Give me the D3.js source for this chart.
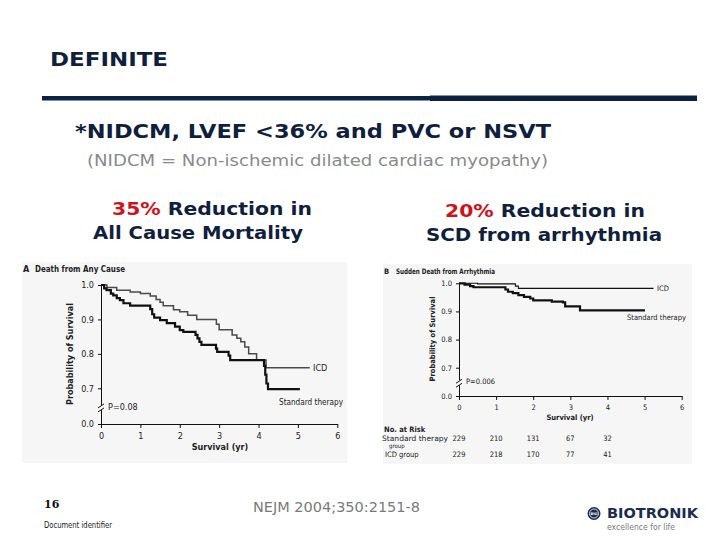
<!DOCTYPE html>
<html><head><meta charset="utf-8">
<script src="https://cdn.jsdelivr.net/npm/d3@7"></script>
<style>
html,body{margin:0;padding:0;background:#fff;}
svg{display:block;}
</style></head>
<body>
<script>
// ---------- DATA ----------
const yearTicks = [0, 1, 2, 3, 4, 5, 6];
const survTicks = [0.0, 0.7, 0.8, 0.9, 1.0];

// Panel A: Death from Any Cause (step points: [year, survival])
const icdA = [[0,1.0],[0.15,0.993],[0.4,0.985],[0.74,0.98],[1.0,0.975],[1.25,0.968],[1.4,0.958],[1.5,0.95],[1.58,0.94],[1.84,0.928],[2.0,0.922],[2.2,0.912],[2.43,0.90],[2.93,0.886],[3.0,0.87],[3.33,0.855],[3.45,0.845],[3.55,0.835],[3.65,0.82],[3.75,0.80],[3.95,0.782],[4.19,0.76],[5.3,0.76]];
const stdA = [[0,1.0],[0.08,0.99],[0.14,0.985],[0.25,0.975],[0.31,0.97],[0.4,0.962],[0.48,0.956],[0.57,0.947],[0.74,0.94],[1.25,0.93],[1.3,0.915],[1.35,0.905],[1.5,0.898],[1.67,0.889],[1.88,0.879],[2.0,0.869],[2.09,0.864],[2.4,0.855],[2.45,0.845],[2.5,0.835],[2.55,0.826],[2.92,0.815],[2.95,0.806],[3.24,0.795],[3.28,0.782],[4.14,0.765],[4.17,0.74],[4.2,0.714],[4.24,0.685],[5.05,0.685]];

// Panel B: Sudden Death from Arrhythmia
const icdB = [[0,1.0],[0.5,0.998],[1.52,0.99],[1.6,0.982],[5.24,0.982]];
const stdB = [[0,1.0],[0.15,0.995],[0.3,0.99],[0.39,0.986],[1.25,0.978],[1.32,0.97],[1.45,0.965],[1.6,0.958],[1.75,0.952],[1.92,0.946],[2.0,0.939],[2.5,0.935],[2.8,0.932],[2.86,0.918],[3.26,0.904],[5.01,0.904]];

// Number at risk (panel B)
const riskYears = [0, 1, 2, 3, 4];
const riskStandard = [229, 210, 131, 67, 32];
const riskICD = [229, 218, 170, 77, 41];

// ---------- DRAW ----------
const W = 720, H = 540;
const svg = d3.select("body").append("svg").attr("width", W).attr("height", H);
const NAVY = "#0f1f3d";
const HEAD = "'DejaVu Sans', Verdana, sans-serif";
const CHART = "'Liberation Sans Narrow','DejaVu Sans Condensed','Liberation Sans',sans-serif";

function txt(g, x, y, s, o = {}) {
  const t = g.append("text").attr("x", x).attr("y", y)
    .attr("font-family", o.family || HEAD)
    .attr("font-size", o.size || 12)
    .attr("font-weight", o.weight || "normal")
    .attr("fill", o.fill || "#222")
    .attr("text-anchor", o.anchor || "start");
  if (o.rotate) t.attr("transform", `rotate(${o.rotate},${x},${y})`);
  if (Array.isArray(s)) {
    s.forEach(p => t.append("tspan").attr("fill", p[1]).text(p[0]));
  } else t.text(s);
  if (o.width) t.attr("textLength", o.width).attr("lengthAdjust", "spacingAndGlyphs");
  return t;
}

// Header
txt(svg, 50, 66, "DEFINITE", {size: 20, weight: "bold", fill: NAVY, width: 118});
svg.append("rect").attr("x", 42).attr("y", 96).attr("width", 390).attr("height", 4.5).attr("fill", "#0c2244");
svg.append("rect").attr("x", 430).attr("y", 95.5).attr("width", 267).attr("height", 5.5).attr("fill", "#0c2244");
txt(svg, 75, 138, "*NIDCM, LVEF <36% and PVC or NSVT", {size: 20, weight: "bold", fill: NAVY, width: 476});
txt(svg, 87, 166, "(NIDCM = Non-ischemic dilated cardiac myopathy)", {size: 16, fill: "#8a8a8a", width: 461});
txt(svg, 112, 215, [["35%", "#d0121b"], [" Reduction in", NAVY]], {size: 18, weight: "bold", width: 200});
txt(svg, 93, 239, "All Cause Mortality", {size: 18, weight: "bold", fill: NAVY, width: 210});
txt(svg, 445, 217, [["20%", "#d0121b"], [" Reduction in", NAVY]], {size: 18, weight: "bold", width: 200});
txt(svg, 426, 241, "SCD from arrhythmia", {size: 18, weight: "bold", fill: NAVY, width: 236});

// Panel builder
function panel(cfg) {
  const g = svg.append("g");
  g.append("rect").attr("x", cfg.box[0]).attr("y", cfg.box[1])
    .attr("width", cfg.box[2]).attr("height", cfg.box[3]).attr("fill", "#f6f6f6");
  const x = d3.scaleLinear().domain([0, 6]).range(cfg.xr);
  const y = d3.scaleLinear().domain([0.0, 0.7, 1.0]).range(cfg.yr);

  const fs = cfg.fs;
  const ax = g.append("g").attr("transform", `translate(0,${cfg.yr[0]})`)
    .call(d3.axisBottom(x).tickValues(yearTicks).tickSize(4).tickSizeOuter(0).tickFormat(d3.format("d")));
  const ay = g.append("g").attr("transform", `translate(${cfg.xr[0]},0)`)
    .call(d3.axisLeft(y).tickValues(survTicks).tickSize(3).tickSizeOuter(0).tickFormat(d3.format(".1f")));
  [ax, ay].forEach(a => {
    a.selectAll("path,line").attr("stroke", "#111").attr("stroke-width", 1);
    a.selectAll("text").attr("font-family", CHART).attr("font-size", fs).attr("fill", "#222");
  });
  ax.selectAll("text").attr("dy", "0.9em");
  ay.selectAll("text").attr("dx", "-1");

  // axis break mark
  const by = y(0.0) + (y(0.7) - y(0.0)) * 0.45;
  const bx = cfg.xr[0];
  g.append("rect").attr("x", bx - 3).attr("y", by - 3).attr("width", 6).attr("height", 5).attr("fill", "#f6f6f6");
  [-2, 2].forEach(o => g.append("line").attr("x1", bx - 3).attr("y1", by + o + 2).attr("x2", bx + 3).attr("y2", by + o - 2)
    .attr("stroke", "#111").attr("stroke-width", 1));

  const line = d3.line().x(d => x(d[0])).y(d => y(d[1])).curve(d3.curveStepAfter);
  g.append("path").datum(cfg.icd).attr("d", line).attr("fill", "none")
    .attr("stroke", cfg.icdColor).attr("stroke-width", cfg.icdWidth);
  g.append("path").datum(cfg.std).attr("d", line).attr("fill", "none")
    .attr("stroke", "#111").attr("stroke-width", 2.2);

  // labels
  txt(g, cfg.box[0] + 1, cfg.titleY, cfg.letter, {family: CHART, size: fs, weight: "bold"});
  txt(g, cfg.titleX, cfg.titleY, cfg.title, {family: CHART, size: fs, weight: "bold", width: cfg.titleW});
  txt(g, cfg.ylab[0], cfg.ylab[1], "Probability of Survival", {family: CHART, size: fs, weight: "bold", anchor: "middle", rotate: -90});
  txt(g, cfg.xlab[0], cfg.xlab[1], "Survival (yr)", {family: CHART, size: fs, weight: "bold", anchor: "middle"});
  txt(g, cfg.icdLab[0], cfg.icdLab[1], "ICD", {family: CHART, size: fs});
  txt(g, cfg.stdLab[0], cfg.stdLab[1], "Standard therapy", {family: CHART, size: fs, width: cfg.stdLab[2]});
  txt(g, cfg.pLab[0], cfg.pLab[1], cfg.p, {family: CHART, size: fs});
  return {g, x, y};
}

panel({
  box: [22, 262, 325, 201], xr: [101, 337.3], yr: [424, 388.3, 285], fs: 9,
  icd: icdA, std: stdA, icdColor: "#4a4a4a", icdWidth: 1.5,
  letter: "A", title: "Death from Any Cause", titleX: 35, titleY: 272, titleW: 90,
  ylab: [73, 354], xlab: [220, 450], icdLab: [313, 371], stdLab: [279, 405, 64],
  pLab: [108, 410], p: "P=0.08"
});

const pB = panel({
  box: [383, 264, 309, 200], xr: [459, 681.7], yr: [396, 367.7, 283.3], fs: 7.5,
  icd: icdB, std: stdB, icdColor: "#111", icdWidth: 1.1,
  letter: "B", title: "Sudden Death from Arrhythmia", titleX: 396, titleY: 274, titleW: 99,
  ylab: [435, 339], xlab: [570, 420], icdLab: [657, 291], stdLab: [627, 320, 59],
  pLab: [466, 384], p: "P=0.006"
});

// Number at risk table (panel B)
const rf = {family: CHART, size: 7.5};
txt(svg, 384, 432, "No. at Risk", {...rf, weight: "bold"});
txt(svg, 382, 441, "Standard therapy", {...rf, width: 66});
txt(svg, 389, 447.5, "group", {...rf, size: 6});
txt(svg, 385, 457, "ICD group", rf);
riskYears.forEach((yr, i) => {
  txt(svg, pB.x(yr), 441, String(riskStandard[i]), {...rf, anchor: "middle"});
  txt(svg, pB.x(yr), 457, String(riskICD[i]), {...rf, anchor: "middle"});
});

// Footer
txt(svg, 44, 508, "16", {size: 11, weight: "bold", fill: "#111", family: "'DejaVu Serif', serif"});
txt(svg, 44, 528, "Document identifier", {size: 8, fill: "#222", family: CHART, width: 68});
txt(svg, 253, 512, "NEJM 2004;350:2151-8", {size: 14, fill: "#7a7a7a", width: 167});

// BIOTRONIK logo
const lg = svg.append("g");
lg.append("circle").attr("cx", 594).attr("cy", 513.5).attr("r", 6.5).attr("fill", "#1b2d4f");
lg.append("circle").attr("cx", 594).attr("cy", 513.5).attr("r", 4.5).attr("fill", "none").attr("stroke", "#fff").attr("stroke-width", 0.8);
txt(lg, 594, 515, "BIO", {size: 3.5, fill: "#fff", anchor: "middle", weight: "bold"});
txt(lg, 607, 518, "BIOTRONIK", {size: 14.5, weight: "bold", fill: "#1b2d4f", width: 91});
txt(lg, 607, 529.5, "excellence for life", {size: 8.5, fill: "#7a7a7a", width: 68});
</script>
</body></html>
